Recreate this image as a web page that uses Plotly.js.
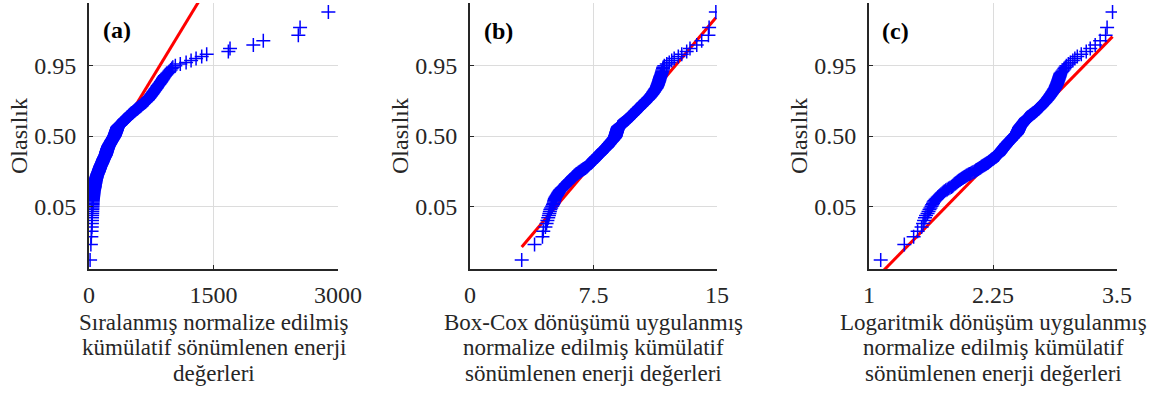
<!DOCTYPE html>
<html>
<head>
<meta charset="utf-8">
<script src="https://cdn.plot.ly/plotly-3.0.1.min.js"></script>
<style>
html,body{margin:0;padding:0;background:#ffffff;}
#chart{width:1159px;height:394px;}
</style>
</head>
<body>
<div id="chart"></div>
<script>
// ---------------- data ----------------
const panelLabels = ['(a)', '(b)', '(c)'];
const yTitle = 'Olasılık';
const xTitleLines = [
  ['Sıralanmış normalize edilmiş', 'kümülatif sönümlenen enerji', 'değerleri'],
  ['Box-Cox dönüşümü uygulanmış', 'normalize edilmiş kümülatif', 'sönümlenen enerji değerleri'],
  ['Logaritmik dönüşüm uygulanmış', 'normalize edilmiş kümülatif', 'sönümlenen enerji değerleri']
];
const probTicks = [0.05, 0.50, 0.95];
const probTickText = ['0.05', '0.50', '0.95'];
const xTickVals = [[0, 1500, 3000], [0, 7.5, 15], [1, 2.25, 3.5]];
const xTickText = [['0', '1500', '3000'], ['0', '7.5', '15'], ['1', '2.25', '3.5']];

// (a) sorted normalized cumulative dissipated energy values
const sortedRaw = [
  13.1, 22.7, 28.2, 30.9, 33.9, 35.1, 35.9, 36.7, 37.6, 38.9,
  39.8, 40.7, 41.7, 42.7, 43.4, 44.2, 44.9, 45.7, 46.9, 48.1,
  49.3, 50.6, 51.9, 53.2, 54.7, 56.1, 57.5, 59.4, 61.4, 63.4,
  65.5, 67.6, 69.0, 70.5, 71.9, 73.5, 74.8, 76.4, 78.0, 79.6,
  81.3, 83.2, 85.1, 87.1, 89.1, 91.2, 93.3, 95.5, 97.7, 100.5,
  103, 106, 109, 112, 115, 117, 119, 121, 124, 126,
  129, 131, 133, 136, 138, 141, 144, 147, 149, 152,
  155, 157, 159, 161, 164, 166, 169, 171, 173, 176,
  178, 181, 183, 186, 189, 191, 194, 197, 200, 201,
  203, 204, 206, 208, 209, 210, 212, 214, 215, 217,
  219, 220, 222, 224, 225, 228, 229, 231, 233, 234,
  237, 240, 243, 246, 248, 251, 254, 257, 260, 262,
  265, 268, 271, 273, 276, 279, 282, 285, 288, 291,
  293, 296, 299, 302, 305, 307, 309, 311, 312, 314,
  316, 318, 320, 321, 323, 325, 327, 328, 330, 332,
  333, 335, 337, 338, 340, 342, 343, 345, 350, 355,
  360, 365, 370, 375, 380, 385, 390, 395, 400, 405,
  410, 415, 420, 425, 430, 435, 441, 446, 452, 457,
  462, 468, 473, 479, 484, 489, 495, 500, 507, 513,
  520, 527, 533, 540, 547, 553, 560, 567, 573, 580,
  587, 593, 600, 608, 615, 623, 631, 638, 646, 654,
  662, 669, 677, 685, 692, 700, 706, 711, 717, 723,
  729, 734, 740, 746, 751, 757, 763, 769, 774, 780,
  786, 793, 799, 805, 811, 818, 824, 830, 838, 845,
  853, 861, 868, 876, 884, 892, 899, 907, 915, 929,
  942, 956, 969, 983, 996, 1010, 1040, 1100, 1170, 1230,
  1290, 1358, 1418, 1679, 1699, 1980, 2100, 2522, 2543, 2884
];

// (b) Box-Cox transformed values
const sortedBoxCox = [
  3.14, 3.92, 4.40, 4.45, 4.58, 4.65, 4.70, 4.75, 4.79, 4.82,
  4.85, 4.88, 4.93, 4.99, 5.04, 5.07, 5.10, 5.12, 5.14, 5.16,
  5.20, 5.24, 5.28, 5.32, 5.35, 5.39, 5.43, 5.47, 5.52, 5.57,
  5.62, 5.67, 5.72, 5.77, 5.82, 5.87, 5.91, 5.95, 5.99, 6.03,
  6.07, 6.11, 6.15, 6.19, 6.23, 6.26, 6.30, 6.34, 6.38, 6.43,
  6.47, 6.52, 6.57, 6.62, 6.66, 6.71, 6.76, 6.81, 6.85, 6.90,
  6.95, 7.00, 7.04, 7.09, 7.12, 7.15, 7.18, 7.21, 7.24, 7.27,
  7.31, 7.34, 7.37, 7.40, 7.43, 7.46, 7.49, 7.52, 7.54, 7.57,
  7.59, 7.62, 7.64, 7.67, 7.69, 7.72, 7.74, 7.77, 7.80, 7.82,
  7.85, 7.88, 7.90, 7.93, 7.95, 7.98, 8.01, 8.03, 8.06, 8.09,
  8.11, 8.14, 8.17, 8.19, 8.22, 8.25, 8.27, 8.30, 8.32, 8.34,
  8.36, 8.38, 8.40, 8.42, 8.44, 8.46, 8.48, 8.50, 8.52, 8.54,
  8.57, 8.59, 8.61, 8.63, 8.65, 8.67, 8.69, 8.71, 8.73, 8.75,
  8.77, 8.79, 8.81, 8.82, 8.83, 8.83, 8.84, 8.85, 8.86, 8.86,
  8.87, 8.88, 8.89, 8.89, 8.90, 8.91, 8.92, 8.92, 8.93, 8.94,
  8.95, 8.95, 8.96, 8.97, 8.98, 8.98, 8.99, 9.00, 9.03, 9.06,
  9.09, 9.12, 9.15, 9.18, 9.21, 9.24, 9.28, 9.31, 9.34, 9.37,
  9.40, 9.43, 9.46, 9.49, 9.52, 9.55, 9.58, 9.60, 9.63, 9.66,
  9.69, 9.71, 9.74, 9.77, 9.80, 9.82, 9.85, 9.88, 9.91, 9.93,
  9.96, 9.99, 10.02, 10.04, 10.07, 10.10, 10.13, 10.15, 10.18, 10.21,
  10.24, 10.26, 10.29, 10.32, 10.35, 10.39, 10.42, 10.46, 10.49, 10.52,
  10.56, 10.59, 10.63, 10.66, 10.69, 10.73, 10.76, 10.80, 10.83, 10.86,
  10.90, 10.93, 10.96, 10.99, 11.02, 11.05, 11.08, 11.11, 11.14, 11.16,
  11.19, 11.22, 11.25, 11.28, 11.31, 11.34, 11.36, 11.38, 11.40, 11.41,
  11.43, 11.45, 11.47, 11.49, 11.50, 11.52, 11.54, 11.56, 11.58, 11.61,
  11.63, 11.65, 11.67, 11.69, 11.72, 11.74, 11.80, 11.95, 12.10, 12.25,
  12.40, 12.65, 12.86, 13.16, 13.36, 13.77, 14.07, 14.48, 14.52, 14.93
];

// (c) logarithmically transformed values
const sortedLog = [
  1.118, 1.356, 1.45, 1.49, 1.53, 1.545, 1.555, 1.565, 1.575, 1.59,
  1.60, 1.61, 1.62, 1.63, 1.637, 1.645, 1.652, 1.66, 1.671, 1.682,
  1.693, 1.704, 1.715, 1.726, 1.738, 1.749, 1.76, 1.774, 1.788, 1.802,
  1.816, 1.83, 1.839, 1.848, 1.857, 1.866, 1.874, 1.883, 1.892, 1.901,
  1.91, 1.92, 1.93, 1.94, 1.95, 1.96, 1.97, 1.98, 1.99, 2.002,
  2.013, 2.025, 2.037, 2.048, 2.06, 2.068, 2.076, 2.084, 2.093, 2.101,
  2.109, 2.117, 2.125, 2.133, 2.141, 2.149, 2.158, 2.166, 2.174, 2.182,
  2.19, 2.196, 2.202, 2.208, 2.214, 2.221, 2.227, 2.233, 2.239, 2.245,
  2.251, 2.257, 2.263, 2.269, 2.276, 2.282, 2.288, 2.294, 2.30, 2.303,
  2.307, 2.31, 2.313, 2.317, 2.32, 2.323, 2.327, 2.33, 2.333, 2.337,
  2.34, 2.343, 2.347, 2.35, 2.353, 2.357, 2.36, 2.363, 2.367, 2.37,
  2.373, 2.377, 2.38, 2.383, 2.387, 2.39, 2.394, 2.398, 2.402, 2.405,
  2.409, 2.413, 2.417, 2.421, 2.425, 2.428, 2.432, 2.436, 2.44, 2.444,
  2.448, 2.452, 2.455, 2.459, 2.463, 2.467, 2.471, 2.475, 2.478, 2.482,
  2.486, 2.49, 2.492, 2.494, 2.496, 2.497, 2.499, 2.501, 2.503, 2.505,
  2.507, 2.509, 2.511, 2.512, 2.514, 2.516, 2.518, 2.52, 2.523, 2.527,
  2.53, 2.533, 2.537, 2.54, 2.543, 2.547, 2.55, 2.553, 2.557, 2.56,
  2.563, 2.567, 2.57, 2.573, 2.577, 2.58, 2.583, 2.587, 2.59, 2.596,
  2.602, 2.608, 2.614, 2.619, 2.625, 2.631, 2.637, 2.643, 2.649, 2.655,
  2.661, 2.667, 2.672, 2.678, 2.684, 2.69, 2.695, 2.70, 2.705, 2.71,
  2.715, 2.72, 2.725, 2.73, 2.735, 2.74, 2.745, 2.75, 2.755, 2.76,
  2.765, 2.77, 2.775, 2.78, 2.785, 2.79, 2.795, 2.799, 2.804, 2.808,
  2.813, 2.817, 2.822, 2.826, 2.831, 2.835, 2.84, 2.844, 2.849, 2.853,
  2.858, 2.862, 2.867, 2.871, 2.876, 2.88, 2.883, 2.887, 2.89, 2.893,
  2.897, 2.90, 2.903, 2.907, 2.91, 2.913, 2.917, 2.92, 2.923, 2.927,
  2.93, 2.94, 2.95, 2.96, 2.97, 2.98, 2.99, 3.01, 3.03, 3.055,
  3.075, 3.10, 3.14, 3.19, 3.23, 3.28, 3.33, 3.385, 3.40, 3.455
];

// fitted normal reference line (mean, standard deviation) for each panel
const refLineMean = [338, 8.85, 2.474];
const refLineStd = [313, 2.2, 0.422];

// ---------------- helpers ----------------
// inverse of the standard normal CDF (Acklam), used as the probability-axis scale
function norminv(p) {
  const a = [-3.969683028665376e+01, 2.209460984245205e+02, -2.759285104469687e+02,
             1.383577518672690e+02, -3.066479806614716e+01, 2.506628277459239e+00];
  const b = [-5.447609879822406e+01, 1.615858368580409e+02, -1.556989798598866e+02,
             6.680131188771972e+01, -1.328068155288572e+01];
  const c = [-7.784894002430293e-03, -3.223964580411365e-01, -2.400758277161838e+00,
             -2.549732539343734e+00, 4.374664141464968e+00, 2.938163982698783e+00];
  const d = [7.784695709041462e-03, 3.224671290700398e-01, 2.445134137142996e+00,
             3.754408661907416e+00];
  const pl = 0.02425, ph = 1 - pl;
  let q, r;
  if (p < pl) {
    q = Math.sqrt(-2 * Math.log(p));
    return (((((c[0]*q+c[1])*q+c[2])*q+c[3])*q+c[4])*q+c[5]) / ((((d[0]*q+d[1])*q+d[2])*q+d[3])*q+1);
  }
  if (p <= ph) {
    q = p - 0.5; r = q * q;
    return (((((a[0]*r+a[1])*r+a[2])*r+a[3])*r+a[4])*r+a[5])*q / (((((b[0]*r+b[1])*r+b[2])*r+b[3])*r+b[4])*r+1);
  }
  q = Math.sqrt(-2 * Math.log(1 - p));
  return -(((((c[0]*q+c[1])*q+c[2])*q+c[3])*q+c[4])*q+c[5]) / ((((d[0]*q+d[1])*q+d[2])*q+d[3])*q+1);
}

// ---------------- figure ----------------
const W = 1159, H = 394;
const M = {l: 0, r: 0, t: 3, b: 125};
const plotH = H - M.t - M.b;
const pyPaper = (py) => (H - M.b - py) / plotH;   // pixel row -> paper y

const FONT = '"Liberation Serif", "Times New Roman", serif';
const TXT = '#262626';
const series = [sortedRaw, sortedBoxCox, sortedLog];
const xRanges = [[0, 3000], [0, 15], [1, 3.5]];
const xDomainsPx = [[89, 338], [470, 717], [869, 1117]];
const panelLabelPx = [[117, 30], [498, 31], [895, 31]];
const titleLineMidPx = [322, 347.5, 373];
const yRange = [-3.11, 3.11];

const traces = [];
const layout = {
  width: W, height: H,
  margin: M,
  paper_bgcolor: '#ffffff',
  plot_bgcolor: '#ffffff',
  showlegend: false,
  font: {family: FONT, color: TXT, size: 22},
  annotations: []
};

series.forEach((vals, k) => {
  const n = vals.length;
  const z = vals.map((v, i) => norminv((i + 0.5) / n));
  const xs = k === 0 ? 'x' : 'x' + (k + 1);
  const ys = k === 0 ? 'y' : 'y' + (k + 1);
  const xmin = Math.min(...vals), xmax = Math.max(...vals);
  // reference line first (drawn under markers)
  traces.push({
    type: 'scatter', mode: 'lines', xaxis: xs, yaxis: ys,
    x: [xmin, xmax],
    y: [(xmin - refLineMean[k]) / refLineStd[k], (xmax - refLineMean[k]) / refLineStd[k]],
    line: {color: '#ff0000', width: 3},
    hoverinfo: 'skip'
  });
  traces.push({
    type: 'scatter', mode: 'markers', xaxis: xs, yaxis: ys,
    x: vals, y: z,
    marker: {symbol: 'cross-thin-open', size: 10, color: '#0000ff',
             line: {color: '#0000ff', width: 1.5}},
    cliponaxis: true
  });

  const xKey = k === 0 ? 'xaxis' : 'xaxis' + (k + 1);
  const yKey = k === 0 ? 'yaxis' : 'yaxis' + (k + 1);
  layout[xKey] = {
    domain: [xDomainsPx[k][0] / W, xDomainsPx[k][1] / W],
    anchor: ys,
    range: xRanges[k],
    tickmode: 'array', tickvals: xTickVals[k], ticktext: xTickText[k],
    tickfont: {family: FONT, size: 24, color: TXT},
    ticks: 'inside', ticklen: 4, tickwidth: 1, tickcolor: TXT,
    ticklabelstandoff: 3,
    showgrid: true, gridcolor: '#dcdcdc', gridwidth: 1,
    zeroline: false,
    showline: true, linecolor: TXT, linewidth: 2, mirror: false,
    fixedrange: true
  };
  layout[yKey] = {
    domain: [0, 1],
    anchor: xs,
    range: yRange,
    tickmode: 'array', tickvals: probTicks.map(norminv), ticktext: probTickText,
    tickfont: {family: FONT, size: 24, color: TXT},
    ticks: 'inside', ticklen: 4, tickwidth: 1, tickcolor: TXT,
    ticklabelstandoff: 6,
    showgrid: true, gridcolor: '#dcdcdc', gridwidth: 1,
    zeroline: false,
    showline: true, linecolor: TXT, linewidth: 2, mirror: false,
    title: {text: yTitle, font: {family: FONT, size: 24, color: TXT}, standoff: 0},
    fixedrange: true
  };

  // panel label
  layout.annotations.push({
    text: '<b>' + panelLabels[k] + '</b>',
    xref: 'paper', yref: 'paper',
    x: panelLabelPx[k][0] / W, y: pyPaper(panelLabelPx[k][1]),
    xanchor: 'center', yanchor: 'middle', showarrow: false,
    font: {family: FONT, size: 24, color: '#000000'}
  });
  // x-axis title, three lines
  xTitleLines[k].forEach((line, j) => {
    layout.annotations.push({
      text: line,
      xref: xs + ' domain', yref: 'paper',
      x: 0.5, y: pyPaper(titleLineMidPx[j]),
      xanchor: 'center', yanchor: 'middle', showarrow: false,
      font: {family: FONT, size: 23, color: TXT}
    });
  });
});

Plotly.newPlot('chart', traces, layout, {displayModeBar: false, staticPlot: true});
</script>
</body>
</html>
